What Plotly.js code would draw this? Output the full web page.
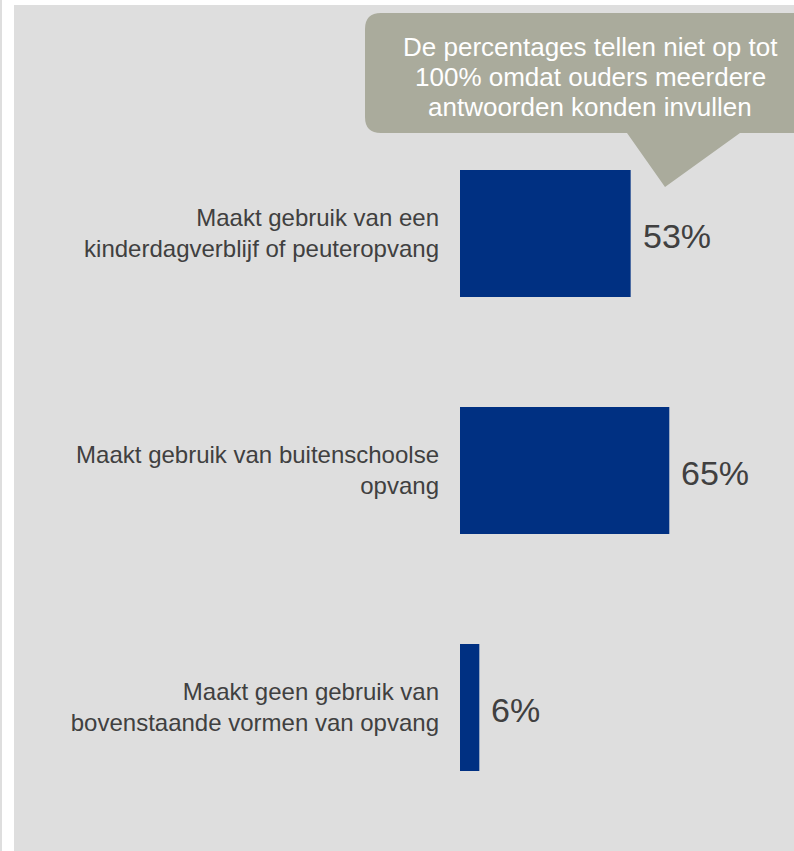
<!DOCTYPE html>
<html>
<head>
<meta charset="utf-8">
<script src="https://cdn.plot.ly/plotly-3.0.1.min.js"></script>
<style>html,body{margin:0;padding:0;background:#fff;}</style>
</head>
<body>
<div id="chart" style="width:794px;height:851px;"></div>
<script>
// Data
var categories = [
  "Maakt gebruik van een<br>kinderdagverblijf of peuteropvang",
  "Maakt gebruik van buitenschoolse<br>opvang",
  "Maakt geen gebruik van<br>bovenstaande vormen van opvang"
];
var values = [53, 65, 6];
var valueLabels = ["53%", "65%", "6%"];
var calloutLines = [
  "De percentages tellen niet op tot",
  "100% omdat ouders meerdere",
  "antwoorden konden invullen"
];

// Layout geometry (pixels)
var W = 794, H = 851;
var M = {l: 460, r: 12, t: 115, b: 25};
var PW = W - M.l - M.r, PH = H - M.t - M.b;
function px(x) { return (x - M.l) / PW; }
function py(y) { return (H - M.b - y) / PH; }

// Callout path (rounded rect with pointer)
function calloutPath() {
  var x0 = 365, x1 = 800, y0 = 13, y1 = 133, r = 16;
  return "M " + px(x0 + r) + "," + py(y0) +
    " L " + px(x1) + "," + py(y0) +
    " L " + px(x1) + "," + py(y1) +
    " L " + px(740) + "," + py(y1) +
    " L " + px(665) + "," + py(187) +
    " L " + px(627) + "," + py(y1) +
    " L " + px(x0 + r) + "," + py(y1) +
    " Q " + px(x0) + "," + py(y1) + " " + px(x0) + "," + py(y1 - r) +
    " L " + px(x0) + "," + py(y0 + r) +
    " Q " + px(x0) + "," + py(y0) + " " + px(x0 + r) + "," + py(y0) + " Z";
}

var FONT = "Liberation Sans, Arial, sans-serif";
var textColor = "#404040";
var annotations = values.map(function (v, i) {
  return {
    x: v, y: categories[i], xref: "x", yref: "y",
    text: valueLabels[i], showarrow: false,
    xanchor: "left", yanchor: "middle", xshift: 10, yshift: -2,
    font: {family: FONT, size: 34, color: textColor}
  };
});
calloutLines.forEach(function (t, i) {
  annotations.push({
    x: px(590), y: py(47 + 30 * i), xref: "paper", yref: "paper",
    text: t, showarrow: false, xanchor: "center", yanchor: "middle",
    font: {family: FONT, size: 26, color: "#ffffff"}
  });
});

var trace = {
  type: "bar", orientation: "h",
  x: values, y: categories,
  marker: {color: "#003082"},
  hoverinfo: "none", cliponaxis: false
};

var layout = {
  width: W, height: H,
  margin: M,
  paper_bgcolor: "#dedede",
  plot_bgcolor: "#dedede",
  showlegend: false,
  bargap: 0.464,
  xaxis: {range: [0, 100], visible: false, fixedrange: true},
  yaxis: {
    type: "category", autorange: "reversed",
    showgrid: false, zeroline: false, showline: false, ticks: "",
    ticklabelstandoff: 20,
    tickfont: {family: FONT, size: 24, color: textColor},
    fixedrange: true
  },
  shapes: [
    {type: "rect", xref: "paper", yref: "paper", x0: px(2), x1: px(14), y0: py(H + 5), y1: py(-5), fillcolor: "#ffffff", line: {width: 0}, layer: "below"},
    {type: "rect", xref: "paper", yref: "paper", x0: px(2), x1: px(W + 5), y0: py(5), y1: py(-5), fillcolor: "#ffffff", line: {width: 0}, layer: "below"},
    {type: "path", xref: "paper", yref: "paper", path: calloutPath(), fillcolor: "#aaab9c", line: {width: 0}, layer: "above"}
  ],
  annotations: annotations
};

Plotly.newPlot("chart", [trace], layout, {displayModeBar: false, staticPlot: true});
</script>
</body>
</html>
